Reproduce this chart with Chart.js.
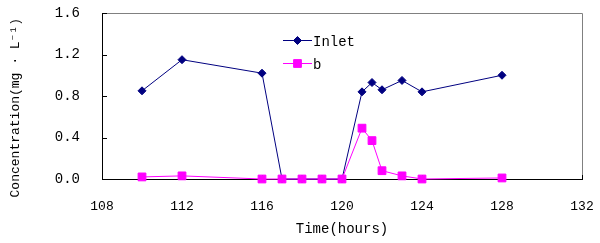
<!DOCTYPE html>
<html>
<head>
<meta charset="utf-8">
<script src="https://cdn.jsdelivr.net/npm/chart.js@4/dist/chart.umd.min.js"></script>
<style>
  html, body { margin: 0; padding: 0; background: #ffffff; }
  #wrap { width: 600px; height: 243px; }
</style>
</head>
<body>
<div id="wrap"><canvas id="chart"></canvas></div>
<script>
const hours = [110, 112, 116, 117, 118, 119, 120, 121, 121.5, 122, 123, 124, 128];
const inletValues = [0.85, 1.15, 1.02, 0, 0, 0, 0, 0.84, 0.93, 0.86, 0.95, 0.84, 1.0];
const bValues = [0.02, 0.03, 0, 0, 0, 0, 0, 0.49, 0.37, 0.08, 0.03, 0, 0.01];
const xTicks = [108, 112, 116, 120, 124, 128, 132];
const yTicks = [0, 0.4, 0.8, 1.2, 1.6];

const FONT = "'Liberation Mono', 'DejaVu Sans Mono', monospace";
const NAVY = "#000080";
const MAGENTA = "#ff00ff";

const toPoints = (vals) => hours.map((h, i) => ({ x: h, y: vals[i] }));

// axes frame with inward ticks + legend inside the plot
const framePlugin = {
  id: "frame",
  beforeDatasetsDraw(chart) {
    const { ctx, chartArea: a, scales } = chart;
    ctx.save();
    ctx.lineWidth = 1;
    ctx.strokeStyle = "#808080";
    ctx.beginPath();
    ctx.moveTo(a.left, a.top + 0.5);
    ctx.lineTo(a.right + 0.5, a.top + 0.5);
    ctx.lineTo(a.right + 0.5, a.bottom);
    ctx.stroke();
    ctx.strokeStyle = "#000000";
    ctx.beginPath();
    ctx.moveTo(a.left + 0.5, a.top);
    ctx.lineTo(a.left + 0.5, a.bottom + 0.5);
    ctx.lineTo(a.right + 1, a.bottom + 0.5);
    xTicks.forEach((t) => {
      const px = Math.round(scales.x.getPixelForValue(t)) + 0.5;
      ctx.moveTo(px, a.bottom);
      ctx.lineTo(px, a.bottom - 4);
    });
    yTicks.forEach((t) => {
      const py = Math.round(scales.y.getPixelForValue(t)) + 0.5;
      ctx.moveTo(a.left, py);
      ctx.lineTo(a.left + 5, py);
    });
    ctx.stroke();
    ctx.restore();
  },
  afterDraw(chart) {
    const { ctx } = chart;
    const items = [
      { ds: chart.data.datasets[0], y: 40 },
      { ds: chart.data.datasets[1], y: 63 },
    ];
    ctx.save();
    items.forEach(({ ds, y }) => {
      ctx.strokeStyle = ds.borderColor;
      ctx.fillStyle = ds.backgroundColor;
      ctx.lineWidth = 1;
      ctx.beginPath();
      ctx.moveTo(283, y + 0.5);
      ctx.lineTo(312, y + 0.5);
      ctx.stroke();
      Chart.helpers.drawPoint(ctx, {
        pointStyle: ds.pointStyle,
        radius: ds.pointRadius,
        borderWidth: 1,
      }, 297.5, y + 0.5);
      ctx.fillStyle = "#000000";
      ctx.font = "14px " + FONT;
      ctx.textBaseline = "middle";
      ctx.fillText(ds.label, 313, y + 2);
    });
    ctx.restore();
  },
};

new Chart(document.getElementById("chart"), {
  type: "line",
  data: {
    datasets: [
      {
        label: "Inlet",
        data: toPoints(inletValues),
        borderColor: NAVY,
        backgroundColor: NAVY,
        borderWidth: 1,
        pointStyle: "rectRot",
        pointRadius: 4,
        pointBorderWidth: 1,
        order: 1,
        clip: false,
      },
      {
        label: "b",
        data: toPoints(bValues),
        borderColor: MAGENTA,
        backgroundColor: MAGENTA,
        borderWidth: 1,
        pointStyle: "rect",
        pointRadius: 5.5,
        pointBorderWidth: 1,
        order: 0,
        clip: false,
      },
    ],
  },
  options: {
    responsive: true,
    maintainAspectRatio: false,
    animation: false,
    layout: { padding: { top: 13, right: 18, left: 0, bottom: 0 } },
    plugins: { legend: { display: false }, tooltip: { enabled: false } },
    scales: {
      x: {
        type: "linear",
        min: 108,
        max: 132,
        afterBuildTicks: (s) => { s.ticks = xTicks.map((v) => ({ value: v })); },
        afterFit: (s) => { s.height = 64; s.paddingLeft = 0; s.paddingRight = 0; },
        grid: { display: false, drawTicks: false },
        border: { display: false },
        ticks: { color: "#000000", font: { family: FONT, size: 13 }, padding: 20, maxRotation: 0 },
        title: {
          display: true,
          text: "Time(hours)",
          color: "#000000",
          font: { family: FONT, size: 14 },
          padding: { top: 4, bottom: 5 },
        },
      },
      y: {
        min: 0,
        max: 1.6,
        afterBuildTicks: (s) => { s.ticks = yTicks.map((v) => ({ value: v })); },
        afterFit: (s) => { s.width = 102; s.paddingTop = 0; s.paddingBottom = 0; },
        grid: { display: false, drawTicks: false },
        border: { display: false },
        ticks: {
          color: "#000000",
          font: { family: FONT, size: 14 },
          padding: 22,
          callback: (v) => Number(v).toFixed(1),
        },
        title: {
          display: true,
          // trailing spaces nudge the centred title downwards like the original
          text: "Concentration(mg · L⁻¹)\u00a0\u00a0\u00a0",
          color: "#000000",
          font: { family: FONT, size: 13 },
          padding: { top: 8, bottom: 0 },
        },
      },
    },
  },
  plugins: [framePlugin],
});
</script>
</body>
</html>
